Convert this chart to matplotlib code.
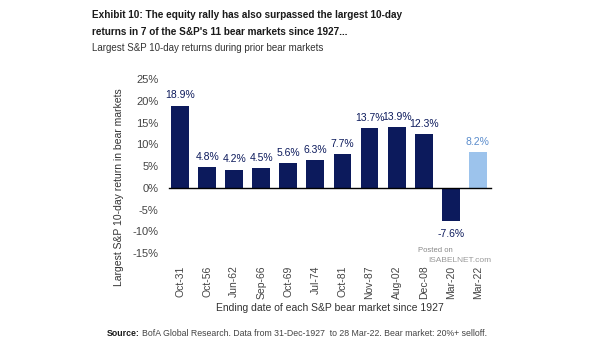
import numpy as np
import matplotlib.pyplot as plt

# bear market end dates and their largest 10-day S&P returns (%)
periods = ['Oct-31', 'Oct-56', 'Jun-62', 'Sep-66', 'Oct-69', 'Jul-74',
           'Oct-81', 'Nov-87', 'Aug-02', 'Dec-08', 'Mar-20', 'Mar-22']
returns = [18.9, 4.8, 4.2, 4.5, 5.6, 6.3, 7.7, 13.7, 13.9, 12.3, -7.6, 8.2]
yticks = [-15, -10, -5, 0, 5, 10, 15, 20, 25]

navy = '#0c1a5c'
light = '#9cc3ec'
light_txt = '#5a8ccc'

plt.rcParams['font.family'] = ['Liberation Sans', 'DejaVu Sans']

fig = plt.figure(figsize=(6.05, 3.41), dpi=100)
ax = fig.add_axes([0.273, 0.258, 0.545, 0.510])

x = np.arange(len(periods))
colors = [navy] * (len(periods) - 1) + [light]
ax.bar(x, returns, width=0.66, color=colors)

for xi, v, c in zip(x, returns, colors):
    tc = light_txt if c == light else navy
    if v >= 0:
        ax.text(xi, v + 1.2, f'{v:.1f}%', ha='center', va='bottom', fontsize=7.5, color=tc)
    else:
        ax.text(xi, v - 1.8, f'{v:.1f}%', ha='center', va='top', fontsize=7.5, color=tc)

ax.plot([-0.42, 11.48], [0, 0], color='black', lw=1.0)

ax.set_xlim(-0.55, 11.63)
ax.set_ylim(-15, 25)
ax.set_yticks(yticks)
ax.set_yticklabels([f'{t}%' for t in yticks], fontsize=8, color='#444444')
ax.set_xticks(x)
ax.set_xticklabels(periods, rotation=90, fontsize=7.5, color='#444444')
ax.tick_params(length=0, pad=5)
ax.tick_params(axis='x', pad=9)
for s in ax.spines.values():
    s.set_visible(False)

ax.set_ylabel('Largest S&P 10-day return in bear markets', fontsize=7.5, color='#333333')
ax.yaxis.set_label_coords(-0.125, 0.38)

fig.text(0.152, 0.955, 'Exhibit 10: The equity rally has also surpassed the largest 10-day',
         fontsize=7.2, fontweight='bold', color='#1a1a1a', va='center')
fig.text(0.152, 0.907, "returns in 7 of the S&P's 11 bear markets since 1927...",
         fontsize=7.2, fontweight='bold', color='#1a1a1a', va='center')
fig.text(0.152, 0.860, 'Largest S&P 10-day returns during prior bear markets',
         fontsize=7, color='#333333', va='center')
fig.text(0.545, 0.096, 'Ending date of each S&P bear market since 1927',
         fontsize=7.5, color='#333333', ha='center', va='center')
fig.text(0.177, 0.023, 'Source:', fontsize=6.3, fontweight='bold', color='#1a1a1a', va='center')
fig.text(0.235, 0.023, 'BofA Global Research. Data from 31-Dec-1927  to 28 Mar-22. Bear market: 20%+ selloff.',
         fontsize=6.3, color='#444444', va='center')

# site watermark
fig.text(0.691, 0.264, 'Posted on', fontsize=5.5, color='#888888', va='center')
fig.text(0.708, 0.235, 'ISABELNET.com', fontsize=6, color='#999999', va='center')

fig.savefig('out.png', dpi=100)
